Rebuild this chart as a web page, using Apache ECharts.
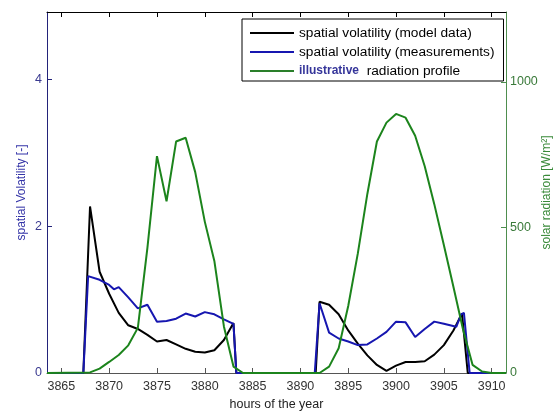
<!DOCTYPE html>
<html>
<head>
<meta charset="utf-8">
<script src="https://cdn.jsdelivr.net/npm/echarts@6/dist/echarts.min.js"></script>
<style>
  html, body { margin: 0; padding: 0; background: #fff; }
  #chart { width: 555px; height: 412px; }
</style>
</head>
<body>
<div id="chart"></div>
<script>
// tick labels
var xTicks = [3865, 3870, 3875, 3880, 3885, 3890, 3895, 3900, 3905, 3910]
var yLeftTicks = [0, 2, 4]
var yRightTicks = [0, 500, 1000]

// spatial volatility (model data)
var modelHours = [3863.5, 3867.3, 3868, 3869, 3870, 3871, 3872, 3873, 3874, 3875, 3876, 3877, 3878, 3879, 3880, 3881, 3882, 3883, 3883.3,
  3891.6, 3892, 3893, 3894, 3895, 3896, 3897, 3898, 3899, 3900, 3901, 3902, 3903, 3904, 3905, 3906, 3906.9, 3907.5, 3911.5]
var modelValues = [0, 0, 2.27, 1.38, 1.08, 0.82, 0.65, 0.6, 0.52, 0.43, 0.45, 0.39, 0.33, 0.29, 0.28, 0.31, 0.45, 0.68, 0,
  0, 0.97, 0.93, 0.8, 0.58, 0.4, 0.24, 0.11, 0.03, 0.1, 0.15, 0.15, 0.16, 0.25, 0.38, 0.58, 0.81, 0, 0]

// spatial volatility (measurements)
var measHours = [3863.5, 3867.3, 3867.8, 3869, 3870, 3870.5, 3871, 3872, 3873, 3874, 3875, 3876, 3877, 3878, 3879, 3880, 3881, 3882, 3883, 3883.3,
  3891.5, 3892, 3893, 3894, 3895, 3896, 3897, 3898, 3899, 3900, 3901, 3902, 3903, 3904, 3905, 3906.3, 3906.8, 3907.1, 3907.7, 3911.5]
var measValues = [0, 0, 1.32, 1.27, 1.2, 1.14, 1.17, 1.03, 0.88, 0.93, 0.7, 0.71, 0.74, 0.81, 0.77, 0.83, 0.8, 0.73, 0.67, 0,
  0, 0.95, 0.55, 0.47, 0.43, 0.38, 0.39, 0.47, 0.56, 0.7, 0.69, 0.49, 0.6, 0.7, 0.67, 0.63, 0.8, 0.82, 0, 0]

// illustrative radiation profile (W/m²)
var radHours = [3863.5, 3868, 3869, 3870, 3871, 3872, 3873, 3874, 3875, 3876, 3877, 3878, 3879, 3880, 3881, 3882, 3883, 3884,
  3892, 3893, 3894, 3895, 3896, 3897, 3898, 3899, 3900, 3901, 3902, 3903, 3904, 3905, 3906, 3907, 3908, 3909, 3910, 3911.5]
var radValues = [0, 2, 15, 38, 62, 95, 155, 430, 745, 590, 795, 808, 690, 520, 385, 160, 22, 0,
  0, 22, 85, 230, 410, 615, 795, 860, 890, 877, 815, 710, 580, 440, 296, 150, 28, 5, 0, 0]

function zip(xs, ys) {
  return xs.map(function (x, i) { return [x, ys[i]] })
}

function plain(v) {
  return String(v)
}

var chart = echarts.init(document.getElementById('chart'))

var font = 'Liberation Sans, Arial, sans-serif'
var navy = '#23237a'
var green = '#4e8e4e'

var option = {
  animation: false,
  backgroundColor: '#fff',
  textStyle: { fontFamily: font },
  grid: { left: 47, right: 49, top: 12, bottom: 39, outerBoundsMode: 'none', containLabel: false },
  legend: {
    orient: 'vertical',
    left: 242,
    top: 19,
    width: 262,
    padding: [7, 9, 3, 8],
    itemGap: 5,
    itemWidth: 44,
    itemHeight: 2,
    icon: 'rect',
    backgroundColor: '#fff',
    borderColor: '#000',
    borderWidth: 1,
    borderRadius: 0,
    textStyle: {
      fontSize: 13.7,
      color: '#000',
      fontFamily: font,
      rich: {
        i: { fontSize: 12, fontWeight: 'bold', color: '#35359a', fontFamily: font }
      }
    },
    formatter: function (name) {
      if (name.indexOf('illustrative') === 0) {
        return '{i|illustrative}  radiation profile'
      }
      return name
    },
    data: ['spatial volatility (model data)', 'spatial volatility (measurements)', 'illustrative radiation profile']
  },
  xAxis: [{
    type: 'value',
    position: 'bottom',
    min: 3863.5,
    max: 3911.5,
    name: 'hours of the year',
    nameLocation: 'middle',
    nameGap: 24,
    nameTextStyle: { fontSize: 12.5, color: '#222', fontFamily: font },
    axisLine: { onZero: false, lineStyle: { color: '#555', width: 1 } },
    axisTick: { inside: true, length: 5, customValues: xTicks, lineStyle: { color: '#555' } },
    axisLabel: { customValues: xTicks, formatter: plain, fontSize: 12.5, color: '#333', margin: 7 },
    splitLine: { show: false }
  }, {
    type: 'value',
    position: 'top',
    min: 3863.5,
    max: 3911.5,
    axisLine: { show: true, onZero: false, lineStyle: { color: '#000', width: 1 } },
    axisTick: { show: true, inside: true, length: 5, customValues: xTicks, lineStyle: { color: '#000' } },
    axisLabel: { show: false },
    splitLine: { show: false }
  }],
  yAxis: [{
    type: 'value',
    position: 'left',
    min: 0,
    max: 4.92,
    name: 'spatial Volatility [-]',
    nameLocation: 'middle',
    nameGap: 25,
    nameMoveOverlap: false,
    nameTextStyle: { fontSize: 12, color: '#3535a8', fontFamily: font, verticalAlign: 'middle' },
    axisLine: { show: true, onZero: false, lineStyle: { color: navy, width: 1 } },
    axisTick: { inside: true, length: 5, customValues: yLeftTicks, lineStyle: { color: navy } },
    axisLabel: { customValues: yLeftTicks, formatter: plain, fontSize: 12.5, color: '#3a3a90', margin: 5 },
    splitLine: { show: false }
  }, {
    type: 'value',
    position: 'right',
    min: 0,
    max: 1240,
    name: 'solar radiation [W/m²]',
    nameLocation: 'middle',
    nameGap: 41,
    nameRotate: 90,
    nameMoveOverlap: false,
    nameTextStyle: { fontSize: 12, color: '#3a8a3a', fontFamily: font, verticalAlign: 'middle' },
    axisLine: { show: true, onZero: false, lineStyle: { color: green, width: 1 } },
    axisTick: { inside: true, length: 5, customValues: yRightTicks, lineStyle: { color: green } },
    axisLabel: { customValues: yRightTicks, formatter: plain, fontSize: 12.5, color: '#3a7a3a', margin: 4 },
    splitLine: { show: false }
  }],
  series: [{
    name: 'spatial volatility (model data)',
    type: 'line',
    xAxisIndex: 0,
    yAxisIndex: 0,
    symbol: 'none',
    color: '#000',
    lineStyle: { width: 2, color: '#000' },
    data: zip(modelHours, modelValues)
  }, {
    name: 'spatial volatility (measurements)',
    type: 'line',
    xAxisIndex: 0,
    yAxisIndex: 0,
    symbol: 'none',
    color: '#1616b0',
    lineStyle: { width: 2, color: '#1616b0' },
    data: zip(measHours, measValues)
  }, {
    name: 'illustrative radiation profile',
    type: 'line',
    xAxisIndex: 0,
    yAxisIndex: 1,
    symbol: 'none',
    color: '#2a7f2a',
    lineStyle: { width: 2, color: '#1c841c' },
    data: zip(radHours, radValues)
  }]
}

chart.setOption(option)
</script>
</body>
</html>
